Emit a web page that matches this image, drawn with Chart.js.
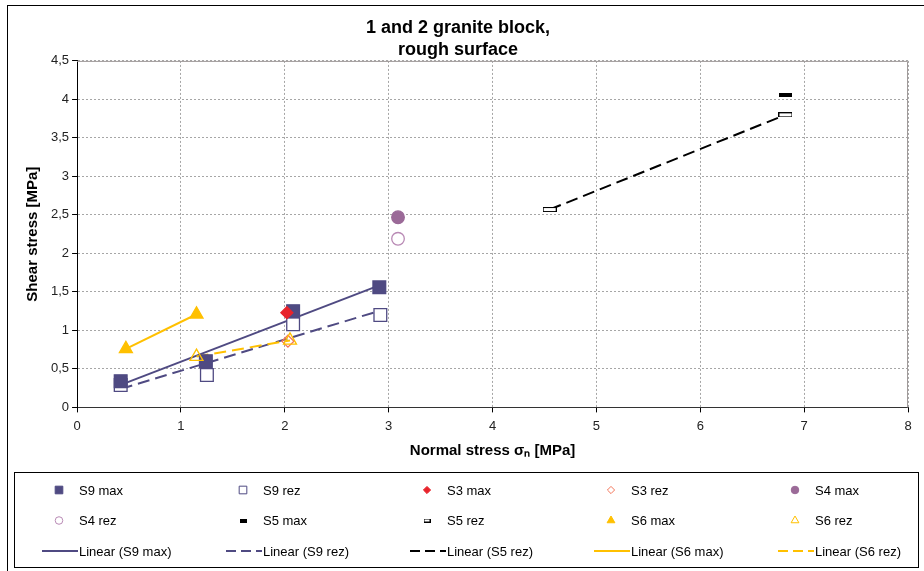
<!DOCTYPE html>
<html>
<head>
<meta charset="utf-8">
<title>1 and 2 granite block, rough surface</title>
<script src="https://cdn.jsdelivr.net/npm/chart.js@4.4.0/dist/chart.umd.min.js"></script>
<style>
  body { margin: 0; background: #fff; }
  #box { width: 924px; height: 571px; }
</style>
</head>
<body>
<div id="box"><canvas id="shearChart" width="924" height="571"></canvas></div>
<script>
'use strict';

/* ----- data ----- */
const s9MaxX = [0.42, 1.24, 2.08, 2.91];
const s9MaxY = [0.34, 0.60, 1.25, 1.56];
const s9RezX = [0.42, 1.25, 2.08, 2.92];
const s9RezY = [0.29, 0.42, 1.08, 1.20];
const s3MaxX = [2.02];
const s3MaxY = [1.23];
const s3RezX = [2.03];
const s3RezY = [0.86];
const s4MaxX = [3.09];
const s4MaxY = [2.47];
const s4RezX = [3.09];
const s4RezY = [2.19];
const s5MaxX = [6.82];
const s5MaxY = [4.06];
const s5RezX = [4.55, 6.82];
const s5RezY = [2.57, 3.80];
const s6MaxX = [0.47, 1.15];
const s6MaxY = [0.76, 1.21];
const s6RezX = [1.15, 2.05];
const s6RezY = [0.66, 0.87];

const xTicks = [0, 1, 2, 3, 4, 5, 6, 7, 8];
const yTicks = [0, 0.5, 1, 1.5, 2, 2.5, 3, 3.5, 4, 4.5];

const S9 = '#4f4a82';
const GOLD = '#ffc000';

Chart.defaults.font.family = "'Liberation Sans', Arial, sans-serif";
Chart.defaults.color = '#222';

const pts = (xs, ys) => xs.map((x, i) => ({ x, y: ys[i] }));

// Excel style linear trendline: least squares over the series, drawn from min x to max x
function trend(xs, ys) {
  const n = xs.length;
  const mx = xs.reduce((a, b) => a + b, 0) / n;
  const my = ys.reduce((a, b) => a + b, 0) / n;
  let sxy = 0, sxx = 0;
  xs.forEach((x, i) => { sxy += (x - mx) * (ys[i] - my); sxx += (x - mx) * (x - mx); });
  const k = sxy / sxx;
  const x0 = Math.min(...xs), x1 = Math.max(...xs);
  return [{ x: x0, y: my + k * (x0 - mx) }, { x: x1, y: my + k * (x1 - mx) }];
}

// small bar glyphs for the S5 markers
function barGlyph(w, h, filled) {
  const c = document.createElement('canvas');
  c.width = w; c.height = h;
  const g = c.getContext('2d');
  if (filled) {
    g.fillStyle = '#000';
    g.fillRect(0, 0, w, h);
  } else {
    g.fillStyle = '#fff';
    g.fillRect(0, 0, w, h);
    g.strokeStyle = '#000';
    g.lineWidth = 1;
    g.strokeRect(0.5, 0.5, w - 1, h - 1);
  }
  return c;
}

// lower order = drawn on top; trendlines stay underneath the markers
const marker = (order, label, data, style, r, fill, stroke) => ({
  label, data, order, pointStyle: style, pointRadius: r, pointHoverRadius: r,
  pointBackgroundColor: fill, pointBorderColor: stroke, pointBorderWidth: 1.3,
  backgroundColor: fill, borderColor: stroke, showLine: false
});

const trendLine = (order, label, data, color, dash) => ({
  label, data, order, showLine: true, pointRadius: 0, pointHoverRadius: 0,
  borderColor: color, backgroundColor: color, borderWidth: 2, borderDash: dash,
  isTrend: true
});

const datasets = [
  marker(15, 'S9 max', pts(s9MaxX, s9MaxY), 'rect', 9, S9, S9),
  marker(16, 'S9 rez', pts(s9RezX, s9RezY), 'rect', 9, '#fff', S9),
  marker(13, 'S3 max', pts(s3MaxX, s3MaxY), 'rectRot', 6, '#e8232b', '#e8232b'),
  marker(12, 'S3 rez', pts(s3RezX, s3RezY), 'rectRot', 6, 'rgba(255,255,255,0)', '#f4765a'),
  marker(11, 'S4 max', pts(s4MaxX, s4MaxY), 'circle', 6.3, '#9b6a98', '#9b6a98'),
  marker(10, 'S4 rez', pts(s4RezX, s4RezY), 'circle', 6.3, '#fff', '#b98ab5'),
  marker(9, 'S5 max', pts(s5MaxX, s5MaxY), barGlyph(13, 4, true), 6, '#000', '#000'),
  marker(8, 'S5 rez', pts(s5RezX, s5RezY), barGlyph(14, 5, false), 6, '#fff', '#000'),
  marker(7, 'S6 max', pts(s6MaxX, s6MaxY), 'triangle', 7.5, GOLD, GOLD),
  marker(6, 'S6 rez', pts(s6RezX, s6RezY), 'triangle', 7.5, 'rgba(255,255,255,0)', GOLD),
  trendLine(20, 'Linear (S9 max)', trend(s9MaxX, s9MaxY), S9, []),
  trendLine(19, 'Linear (S9 rez)', trend(s9RezX, s9RezY), S9, [12, 6]),
  trendLine(18, 'Linear (S5 rez)', trend(s5RezX, s5RezY), '#000', [12, 6]),
  trendLine(17, 'Linear (S6 max)', trend(s6MaxX, s6MaxY), GOLD, []),
  trendLine(17, 'Linear (S6 rez)', trend(s6RezX, s6RezY), GOLD, [12, 6])
];

/* ----- frame, plot border and boxed legend ----- */
const framePlugin = {
  id: 'frame',
  beforeDraw(chart) {
    const ctx = chart.ctx;
    ctx.save();
    ctx.fillStyle = '#fff';
    ctx.fillRect(0, 0, chart.width, chart.height);
    ctx.strokeStyle = '#000';
    ctx.lineWidth = 1;
    ctx.strokeRect(7.5, 5.5, 940, 590);
    ctx.restore();
  },
  afterDatasetsDraw(chart) {
    const a = chart.chartArea, ctx = chart.ctx;
    ctx.save();
    ctx.strokeStyle = '#a09a9a';
    ctx.lineWidth = 1;
    ctx.beginPath();
    ctx.moveTo(a.left, a.top + 0.5);
    ctx.lineTo(a.right - 0.5, a.top + 0.5);
    ctx.lineTo(a.right - 0.5, a.bottom);
    ctx.stroke();
    ctx.restore();
  },
  afterDraw(chart) {
    const ctx = chart.ctx;
    ctx.save();
    ctx.strokeStyle = '#000';
    ctx.lineWidth = 1;
    ctx.strokeRect(14.5, 472.5, 904, 95);
    ctx.font = "13px 'Liberation Sans', Arial, sans-serif";
    ctx.textBaseline = 'middle';
    chart.data.datasets.forEach((ds, i) => {
      const cx = 59 + (i % 5) * 184;
      const cy = 490 + Math.floor(i / 5) * 30.5;
      if (ds.isTrend) {
        ctx.strokeStyle = ds.borderColor;
        ctx.lineWidth = 2;
        ctx.setLineDash(ds.borderDash.length ? [10, 5] : []);
        ctx.beginPath();
        ctx.moveTo(cx - 17, cy);
        ctx.lineTo(cx + 19, cy);
        ctx.stroke();
        ctx.setLineDash([]);
      } else {
        ctx.fillStyle = ds.pointBackgroundColor;
        ctx.strokeStyle = ds.pointBorderColor;
        ctx.lineWidth = 1;
        const glyph = typeof ds.pointStyle === 'string' ? ds.pointStyle : barGlyph(7, 4, ds.label === 'S5 max');
        Chart.helpers.drawPoint(ctx, { pointStyle: glyph, radius: ds.pointRadius * 0.6, rotation: 0, borderWidth: 1 }, cx, cy);
      }
      ctx.fillStyle = '#000';
      ctx.fillText(ds.label, cx + 20, cy + 1);
    });
    ctx.restore();
  }
};

new Chart(document.getElementById('shearChart'), {
  type: 'scatter',
  data: { datasets },
  plugins: [framePlugin],
  options: {
    responsive: false,
    animation: false,
    layout: { padding: { top: 5, left: 8, right: 16, bottom: 107 } },
    plugins: {
      legend: { display: false },
      tooltip: { enabled: false },
      title: {
        display: true,
        text: ['1 and 2 granite block,', 'rough surface'],
        color: '#000',
        font: { size: 18, weight: 'bold', lineHeight: 1.22 },
        padding: { top: 12, bottom: 0 }
      }
    },
    scales: {
      x: {
        type: 'linear',
        min: xTicks[0],
        max: xTicks[xTicks.length - 1],
        afterBuildTicks: s => { s.ticks = xTicks.map(v => ({ value: v })); },
        ticks: { font: { size: 13 }, padding: 6, color: '#222' },
        grid: { color: '#a6a6a6', tickLength: 5, tickColor: '#000' },
        border: { display: true, color: '#333', width: 1, dash: [2, 2] },
        title: {
          display: true,
          text: 'Normal stress σₙ [MPa]',
          color: '#000',
          font: { size: 15, weight: 'bold' },
          padding: { top: 2, bottom: 4 }
        }
      },
      y: {
        type: 'linear',
        min: yTicks[0],
        max: yTicks[yTicks.length - 1],
        afterBuildTicks: s => { s.ticks = yTicks.map(v => ({ value: v })); },
        ticks: {
          font: { size: 13 },
          padding: 3,
          color: '#222',
          callback: v => String(v).replace('.', ',')
        },
        grid: { color: '#a6a6a6', tickLength: 5, tickColor: '#000' },
        border: { display: true, color: '#000', width: 1, dash: [2, 2] },
        title: {
          display: true,
          text: 'Shear stress [MPa]',
          color: '#000',
          font: { size: 15, weight: 'bold' },
          padding: { top: 16, bottom: 6 }
        }
      }
    }
  }
});
</script>
</body>
</html>
